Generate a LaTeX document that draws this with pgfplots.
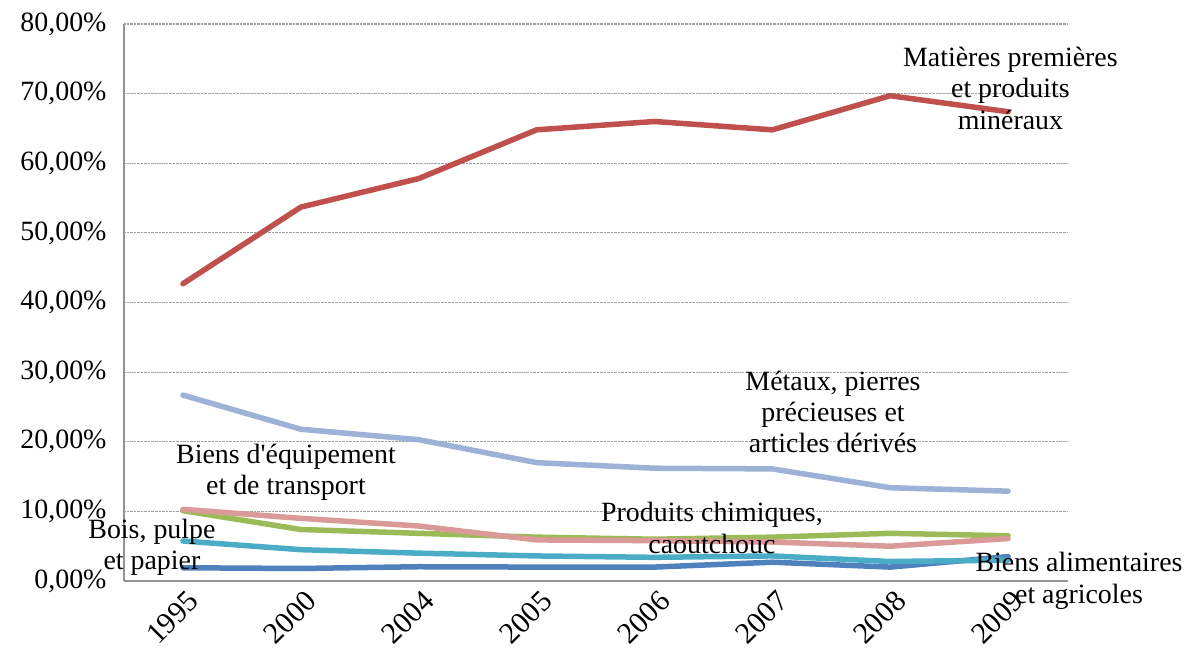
\documentclass[border=0pt]{standalone}
\usepackage{pgfplots}
\pgfplotsset{compat=1.18}
\usepackage{fontspec}
\setmainfont{Liberation Serif}
\newfontfamily\plainfont{Liberation Serif}
\definecolor{cRed}{HTML}{C0504D}
\definecolor{cLBlue}{HTML}{9CB2D6}
\definecolor{cPink}{HTML}{D99A98}
\definecolor{cGreen}{HTML}{9BBB59}
\definecolor{cTeal}{HTML}{4BACC6}
\definecolor{cDBlue}{HTML}{4F81BD}
\newcommand\lab{\fontsize{28}{31.5}\selectfont}
\begin{document}
\begin{tikzpicture}
\begin{axis}[
  at={(124bp,-581bp)}, anchor=south west,
  scale only axis, width=943bp, height=557bp,
  xmin=-0.5, xmax=7.5, ymin=0, ymax=80,
  separate axis lines,
  axis x line*=bottom, axis y line*=left,
  axis line style={-, draw=gray!85, line width=1.5bp},
  ytick={0,10,...,80},
  yticklabels={{0,00\%},{10,00\%},{20,00\%},{30,00\%},{40,00\%},{50,00\%},{60,00\%},{70,00\%},{80,00\%}},
  xtick={0,...,7},
  xticklabels={1995,2000,2004,2005,2006,2007,2008,2009},
  major tick length=0pt,
  ymajorgrids,
  grid style={densely dotted, gray!75, line width=1.2bp},
  yticklabel style={font=\fontsize{28}{28}\selectfont, xshift=-14bp},
  xticklabel style={font=\fontsize{30}{30}\selectfont, xshift=13bp, yshift=-13bp, rotate=45, anchor=east},
  clip=false,
  every axis plot/.append style={line width=5.5bp, line join=round, line cap=round, mark=none},
]
\addplot[cDBlue] coordinates {(0,1.9) (1,1.8) (2,2.05) (3,2.0) (4,2.0) (5,2.7) (6,2.0) (7,3.5)};
\addplot[cRed] coordinates {(0,42.7) (1,53.7) (2,57.8) (3,64.8) (4,66.0) (5,64.8) (6,69.7) (7,67.4)};
\addplot[cGreen] coordinates {(0,10.1) (1,7.4) (2,6.85) (3,6.3) (4,6.0) (5,6.3) (6,6.85) (7,6.5)};
\addplot[cTeal] coordinates {(0,5.75) (1,4.5) (2,4.0) (3,3.6) (4,3.4) (5,3.6) (6,2.8) (7,3.0)};
\addplot[cLBlue] coordinates {(0,26.7) (1,21.8) (2,20.3) (3,17.0) (4,16.2) (5,16.1) (6,13.4) (7,12.9)};
\addplot[cPink] coordinates {(0,10.3) (1,9.0) (2,7.9) (3,5.9) (4,5.8) (5,5.6) (6,5.0) (7,6.1)};
\node[align=center, font=\lab] at (axis cs:7.02,70.8) {Matières premières\\et produits\\minéraux};
\node[align=center, font=\lab] at (axis cs:5.515,24.27) {Métaux, pierres\\précieuses et\\articles dérivés};
\node[align=center, font=\lab] at (axis cs:0.874,15.66) {Biens d{\plainfont '}équipement\\et de transport};
\node[align=center, font=\lab] at (axis cs:-0.263,4.88) {Bois, pulpe\\et papier};
\node[align=center, font=\lab] at (axis cs:4.488,7.61) {Produits chimiques,\\caoutchouc};
\node[align=center, font=\lab] at (axis cs:7.602,0) {Biens alimentaires\\et agricoles};
\end{axis}
\pgfresetboundingbox
\path (0,0) rectangle (1187bp,-657bp);
\end{tikzpicture}
\end{document}
